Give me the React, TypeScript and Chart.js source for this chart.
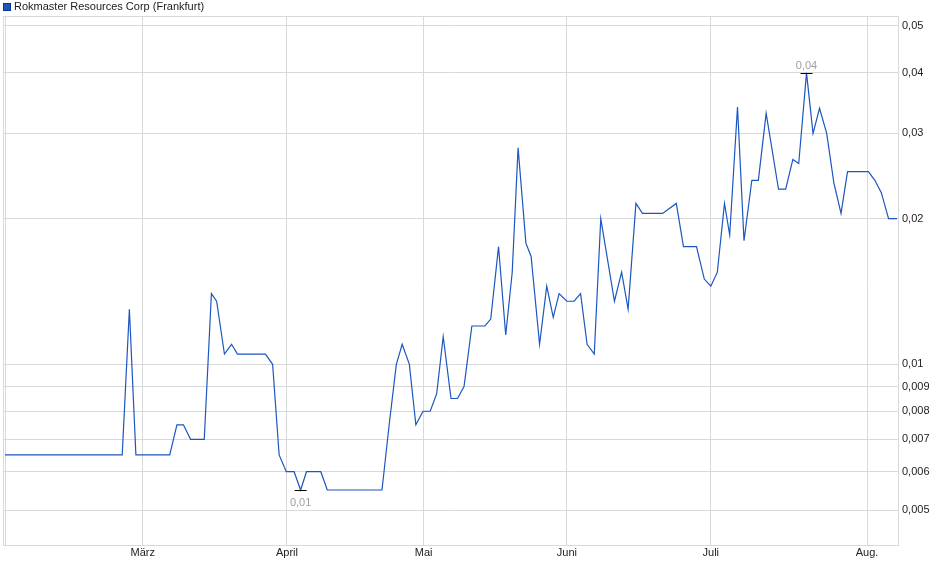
import { useEffect, useRef } from 'react';
import { Chart, registerables } from 'chart.js';

Chart.register(...registerables);

// trading-day position of each quote (0 = first day shown) and the close price in EUR
const days = [
  0, 18, 19.1, 20.1, 25.3, 26.4, 27.4, 28.5, 30.6, 31.7, 32.5, 33.7, 34.8, 35.7, 40.0, 41.1,
  42.1, 43.2, 44.4, 45.4, 46.3, 48.5, 49.5, 57.9, 59.0, 60.1, 61.0, 62.1, 63.1, 64.2, 65.3,
  66.3, 67.3, 68.5, 69.5, 70.5, 71.7, 73.7, 74.6, 75.8, 76.9, 77.9, 78.8, 80.0, 80.8, 82.1,
  83.2, 84.2, 85.1, 86.3, 87.4, 88.4, 89.4, 90.5, 91.5, 93.6, 94.7, 95.7, 96.9, 97.9, 101.0,
  103.1, 104.2, 106.2, 107.4, 108.4, 109.4, 110.5, 111.3, 112.5, 113.5, 114.7, 115.7, 116.9,
  118.8, 119.9, 121.0, 121.9, 123.1, 124.1, 125.1, 126.2, 127.3, 128.4, 129.4, 132.6, 133.6,
  134.6, 135.7, 137,
];
const prices = [
  0.0065, 0.0065, 0.013, 0.0065, 0.0065, 0.0075, 0.0075, 0.007, 0.007, 0.014, 0.0135, 0.0105,
  0.011, 0.0105, 0.0105, 0.01, 0.0065, 0.006, 0.006, 0.0055, 0.006, 0.006, 0.0055, 0.0055,
  0.0075, 0.01, 0.011, 0.01, 0.0075, 0.008, 0.008, 0.0087, 0.0114, 0.0085, 0.0085, 0.009,
  0.012, 0.012, 0.0124, 0.0175, 0.0115, 0.0155, 0.028, 0.0178, 0.0167, 0.011, 0.0145, 0.0125,
  0.014, 0.0135, 0.0135, 0.014, 0.011, 0.0105, 0.02, 0.0135, 0.0155, 0.013, 0.0215, 0.0205,
  0.0205, 0.0215, 0.0175, 0.0175, 0.015, 0.0145, 0.0155, 0.0215, 0.0185, 0.034, 0.018, 0.024,
  0.024, 0.033, 0.023, 0.023, 0.0265, 0.026, 0.04, 0.03, 0.0338, 0.03, 0.0237, 0.0205, 0.025,
  0.025, 0.024, 0.0226, 0.02, 0.02,
];

// first trading day of each month on the same day scale
const monthDays = [0, 21.15, 43.3, 64.3, 86.3, 108.4, 132.4];
const monthLabels = ['', 'März', 'April', 'Mai', 'Juni', 'Juli', 'Aug.'];

const yTicks = [0.005, 0.006, 0.007, 0.008, 0.009, 0.01, 0.02, 0.03, 0.04, 0.05];

const seriesName = 'Rokmaster Resources Corp (Frankfurt)';
const lineColor = '#1c56c0';
const gridColor = '#d9d9d9';
const font = { family: "'Liberation Sans', Arial, sans-serif", size: 11 };

const fmt = (v: number) => String(v).replace('.', ',');
const fmtRounded = (v: number) =>
  (Math.round(v * 100 + 1e-9) / 100).toFixed(2).replace('.', ',');

// plot frame
const framePlugin = {
  id: 'frame',
  beforeDatasetsDraw(chart: Chart) {
    const { ctx, chartArea: a } = chart;
    ctx.save();
    ctx.strokeStyle = gridColor;
    ctx.lineWidth = 1;
    ctx.strokeRect(Math.round(a.left) + 0.5, Math.round(a.top) + 0.5, Math.round(a.right - a.left), Math.round(a.bottom - a.top));
    ctx.restore();
  },
};

// min / max markers with rounded labels
const extremaPlugin = {
  id: 'extrema',
  afterDatasetsDraw(chart: Chart) {
    const meta = chart.getDatasetMeta(0);
    let iMin = 0;
    let iMax = 0;
    prices.forEach((p, i) => {
      if (p < prices[iMin]) iMin = i;
      if (p > prices[iMax]) iMax = i;
    });
    const { ctx } = chart;
    ctx.save();
    ctx.font = `${font.size}px ${font.family}`;
    ctx.textAlign = 'center';
    ctx.textBaseline = 'alphabetic';
    const mark = (i: number, below: boolean) => {
      const pt = meta.data[i];
      const y = Math.round(pt.y) + 0.5;
      ctx.strokeStyle = '#000';
      ctx.lineWidth = 1;
      ctx.beginPath();
      ctx.moveTo(pt.x - 6, y);
      ctx.lineTo(pt.x + 6, y);
      ctx.stroke();
      ctx.fillStyle = '#a0a0a0';
      ctx.fillText(fmtRounded(prices[i]), pt.x, below ? y + 15 : y - 5);
    };
    mark(iMin, true);
    mark(iMax, false);
    ctx.restore();
  },
};

export default function App() {
  const chartRef = useRef<HTMLCanvasElement>(null);
  const chartInstance = useRef<Chart | null>(null);

  useEffect(() => {
    if (!chartRef.current) return;
    if (chartInstance.current) chartInstance.current.destroy();

    const ctx = chartRef.current.getContext('2d');
    if (!ctx) return;

    chartInstance.current = new Chart(ctx, {
      type: 'line',
      data: {
        datasets: [
          {
            label: seriesName,
            data: days.map((d, i) => ({ x: d, y: prices[i] })),
            borderColor: lineColor,
            backgroundColor: lineColor,
            borderWidth: 1.2,
            pointRadius: 0,
            tension: 0,
            fill: false,
          },
        ],
      },
      options: {
        animation: false,
        responsive: true,
        maintainAspectRatio: false,
        layout: { padding: { top: 16, left: 3, right: 0, bottom: 0 } },
        plugins: {
          legend: { display: false },
          tooltip: { enabled: false },
        },
        scales: {
          x: {
            type: 'linear',
            min: -0.31,
            max: 137.15,
            border: { display: false },
            grid: { color: gridColor, drawTicks: false },
            afterBuildTicks: (scale: any) => {
              scale.ticks = monthDays.map((v) => ({ value: v }));
            },
            afterFit: (scale: any) => {
              scale.height = 34;
            },
            ticks: {
              autoSkip: false,
              maxRotation: 0,
              padding: 1,
              color: '#222',
              font,
              callback: (value: any) => {
                const i = monthDays.indexOf(Number(value));
                return i >= 0 ? monthLabels[i] : '';
              },
            },
          },
          y: {
            type: 'logarithmic',
            position: 'right',
            min: 0.004234,
            max: 0.05243,
            border: { display: false },
            grid: { color: gridColor, drawTicks: false },
            afterBuildTicks: (scale: any) => {
              scale.ticks = yTicks.map((v) => ({ value: v }));
            },
            afterFit: (scale: any) => {
              scale.width = 42;
            },
            ticks: {
              autoSkip: false,
              padding: 4,
              color: '#222',
              font,
              callback: (value: any) => fmt(Number(value)),
            },
          },
        },
      },
      plugins: [framePlugin, extremaPlugin],
    });

    return () => {
      if (chartInstance.current) {
        chartInstance.current.destroy();
        chartInstance.current = null;
      }
    };
  }, []);

  return (
    <div style={{ position: 'fixed', left: 0, top: 0, width: 940, height: 579, background: '#fff' }}>
      <div
        style={{
          position: 'absolute',
          left: 3,
          top: 0,
          height: 13,
          display: 'flex',
          alignItems: 'center',
          fontFamily: font.family,
          fontSize: 11,
          lineHeight: '13px',
          color: '#222',
          whiteSpace: 'nowrap',
        }}
      >
        <span
          style={{
            display: 'inline-block',
            width: 6,
            height: 6,
            background: lineColor,
            border: '1px solid #0b3588',
            marginRight: 3,
            marginTop: 1,
          }}
        />
        <span>{seriesName}</span>
      </div>
      <canvas ref={chartRef} />
    </div>
  );
}
